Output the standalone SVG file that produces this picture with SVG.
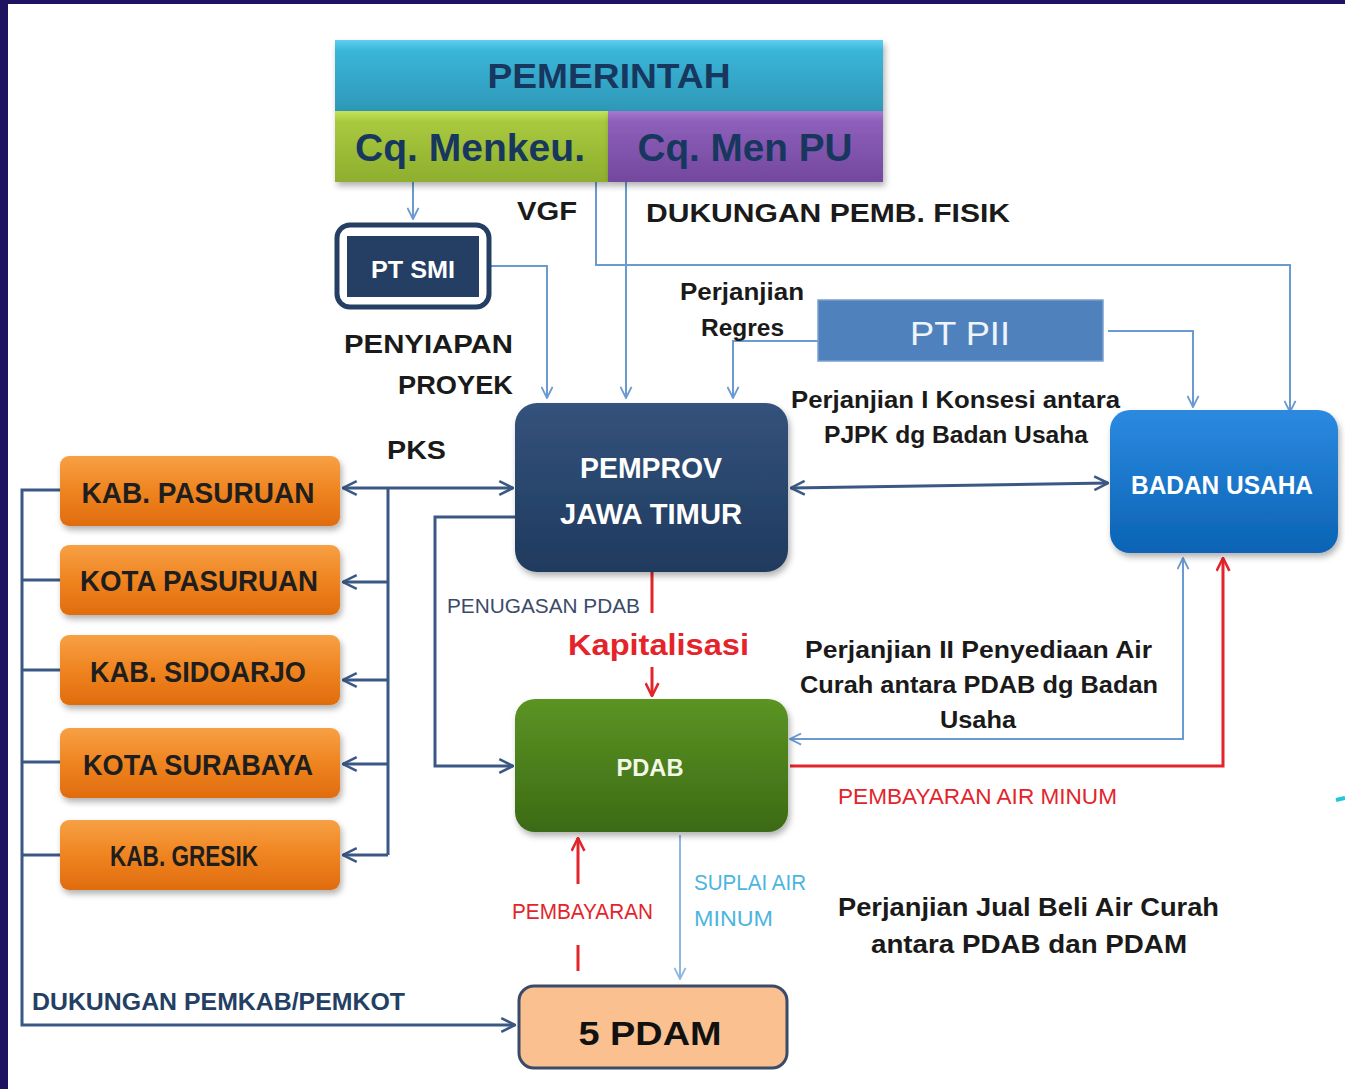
<svg xmlns="http://www.w3.org/2000/svg" width="1345" height="1089" viewBox="0 0 1345 1089">
<defs>
<style>
.t{font-family:"Liberation Sans",Arial,sans-serif;font-weight:bold;}
.lbl{fill:#1a1a1a;font-size:26px;}
.pj{fill:#1a1a1a;font-size:23px;}
.org{fill:#1e1e1e;font-size:29px;}
.w{fill:#ffffff;}
.dk{fill:none;stroke:#3b5884;stroke-width:3;}
.lb{fill:none;stroke:#6b9ad0;stroke-width:2;}
.rd{fill:none;stroke:#e3242b;stroke-width:3;}
.sp{fill:none;stroke:#8fb7e2;stroke-width:2;}
</style>
<marker id="aD" viewBox="0 0 14 14" refX="13" refY="7" markerWidth="16" markerHeight="16" markerUnits="userSpaceOnUse" orient="auto-start-reverse"><path d="M1,1 L13,7 L1,13" fill="none" stroke="#3b5884" stroke-width="2.2"/></marker>
<marker id="aL" viewBox="0 0 14 14" refX="13" refY="7" markerWidth="13" markerHeight="13" markerUnits="userSpaceOnUse" orient="auto"><path d="M1,1 L13,7 L1,13" fill="none" stroke="#6b9ad0" stroke-width="2"/></marker>
<marker id="aS" viewBox="0 0 14 14" refX="13" refY="7" markerWidth="13" markerHeight="13" markerUnits="userSpaceOnUse" orient="auto"><path d="M1,1 L13,7 L1,13" fill="none" stroke="#8fb7e2" stroke-width="2"/></marker>
<marker id="aR" viewBox="0 0 14 14" refX="13" refY="7" markerWidth="15" markerHeight="15" markerUnits="userSpaceOnUse" orient="auto"><path d="M1,1 L13,7 L1,13" fill="none" stroke="#e3242b" stroke-width="2.4"/></marker>
<linearGradient id="gTeal" x1="0" y1="0" x2="0" y2="1"><stop offset="0" stop-color="#5fd0ee"/><stop offset="0.15" stop-color="#3ab5d8"/><stop offset="1" stop-color="#2e98b8"/></linearGradient>
<linearGradient id="gLime" x1="0" y1="0" x2="0" y2="1"><stop offset="0" stop-color="#c4e35a"/><stop offset="0.15" stop-color="#a8c93e"/><stop offset="1" stop-color="#8eae2e"/></linearGradient>
<linearGradient id="gPur" x1="0" y1="0" x2="0" y2="1"><stop offset="0" stop-color="#a57ad0"/><stop offset="0.15" stop-color="#8d5fba"/><stop offset="1" stop-color="#74489e"/></linearGradient>
<linearGradient id="gNavy" x1="0" y1="0" x2="0" y2="1"><stop offset="0" stop-color="#34527c"/><stop offset="1" stop-color="#1f3a5e"/></linearGradient>
<linearGradient id="gBlue" x1="0" y1="0" x2="0" y2="1"><stop offset="0" stop-color="#2b8ae0"/><stop offset="1" stop-color="#0b63b4"/></linearGradient>
<linearGradient id="gGreen" x1="0" y1="0" x2="0" y2="1"><stop offset="0" stop-color="#5b9424"/><stop offset="1" stop-color="#3c6a14"/></linearGradient>
<linearGradient id="gOr" x1="0" y1="0" x2="0" y2="1"><stop offset="0" stop-color="#f7a045"/><stop offset="0.5" stop-color="#ef8420"/><stop offset="1" stop-color="#e06c0e"/></linearGradient>
<filter id="sh" x="-10%" y="-10%" width="125%" height="130%"><feDropShadow dx="2" dy="4" stdDeviation="3" flood-color="#000" flood-opacity="0.3"/></filter>
</defs>
<rect x="0" y="0" width="1345" height="1089" fill="#ffffff"/>
<rect x="0" y="0" width="1345" height="4" fill="#1f1260"/>
<rect x="0" y="0" width="8" height="1089" fill="#1f1260"/>
<path d="M1336,800 L1345,798" stroke="#26c6da" stroke-width="4" fill="none"/>

<g id="connectors">
  <!-- Menkeu to PT SMI -->
  <path class="lb" d="M413,182 V219" marker-end="url(#aL)"/>
  <!-- VGF to Badan Usaha -->
  <path class="lb" d="M596,182 V265 H1290 V412" marker-end="url(#aL)"/>
  <!-- Men PU to Pemprov -->
  <path class="lb" d="M626,182 V398" marker-end="url(#aL)"/>
  <!-- PT SMI to Pemprov -->
  <path class="lb" d="M490,266 H547 V398" marker-end="url(#aL)"/>
  <!-- PT PII to Pemprov (regres) -->
  <path class="lb" d="M818,341 H733 V398" marker-end="url(#aL)"/>
  <!-- PT PII to Badan Usaha -->
  <path class="lb" d="M1108,331 H1193 V407" marker-end="url(#aL)"/>
  <!-- Pemprov <-> Badan Usaha -->
  <path class="dk" d="M791,488 L1108,483" marker-start="url(#aD)" marker-end="url(#aD)"/>
  <!-- PKS bus -->
  <path class="dk" d="M388,488 H513" marker-end="url(#aD)"/>
  <path class="dk" d="M388,488 H343" marker-end="url(#aD)"/>
  <path class="dk" d="M388,488 V855"/>
  <path class="dk" d="M388,582 H343" marker-end="url(#aD)"/>
  <path class="dk" d="M388,680 H343" marker-end="url(#aD)"/>
  <path class="dk" d="M388,764 H343" marker-end="url(#aD)"/>
  <path class="dk" d="M388,855 H343" marker-end="url(#aD)"/>
  <!-- Left bus to 5 PDAM -->
  <path class="dk" d="M60,490 H22 V1025 H515" marker-end="url(#aD)"/>
  <path class="dk" d="M22,580 H60 M22,670 H60 M22,762 H60 M22,855 H60"/>
  <!-- Pemprov to PDAB (penugasan) -->
  <path class="dk" d="M515,517 H435 V766 H513" marker-end="url(#aD)"/>
  <!-- Kapitalisasi -->
  <path class="rd" d="M652,572 V613"/>
  <path class="rd" d="M652,667 V696" marker-end="url(#aR)"/>
  <!-- Badan Usaha to PDAB -->
  <path class="lb" d="M1183,558 V739 H790" stroke-width="2.5"/>
  <path class="lb" d="M1183,600 V558" marker-end="url(#aL)"/>
  <path class="lb" d="M820,739 H790" marker-end="url(#aL)"/>
  <!-- PDAB payment to Badan Usaha -->
  <path class="rd" d="M790,766 H1223 V558" marker-end="url(#aR)"/>
  <!-- Suplai air minum -->
  <path class="sp" d="M680,835 V979" marker-end="url(#aS)"/>
  <!-- Pembayaran -->
  <path class="rd" d="M578,884 V838" marker-end="url(#aR)"/>
  <path class="rd" d="M578,945 V971"/>
</g>

<g id="pemerintah">
  <rect x="335" y="40" width="548" height="71" fill="url(#gTeal)" filter="url(#sh)"/>
  <text class="t" x="609" y="88" font-size="35" fill="#17375e" text-anchor="middle" textLength="243" lengthAdjust="spacingAndGlyphs">PEMERINTAH</text>
</g>
<g id="menkeu">
  <rect x="335" y="111" width="273" height="71" fill="url(#gLime)" filter="url(#sh)"/>
  <text class="t" x="470" y="161" font-size="38" fill="#17375e" text-anchor="middle" textLength="230" lengthAdjust="spacingAndGlyphs">Cq. Menkeu.</text>
</g>
<g id="menpu">
  <rect x="608" y="111" width="275" height="71" fill="url(#gPur)" filter="url(#sh)"/>
  <text class="t" x="745" y="161" font-size="38" fill="#17375e" text-anchor="middle" textLength="215" lengthAdjust="spacingAndGlyphs">Cq. Men PU</text>
</g>

<g id="ptsmi">
  <rect x="337" y="225" width="152" height="82" rx="13" fill="#ffffff" stroke="#243f63" stroke-width="5"/>
  <rect x="347" y="236" width="132" height="61" fill="#243f63"/>
  <text class="t w" x="413" y="278" font-size="24" text-anchor="middle" textLength="84" lengthAdjust="spacingAndGlyphs">PT SMI</text>
</g>

<g id="ptpii">
  <rect x="818" y="300" width="285" height="61" fill="#4f81bd" stroke="#7aa0d0" stroke-width="1.5"/>
  <text x="960" y="345" font-family="Liberation Sans,Arial,sans-serif" font-size="34" fill="#eef4fb" text-anchor="middle" textLength="100" lengthAdjust="spacingAndGlyphs">PT PII</text>
</g>

<g id="pemprov">
  <rect x="515" y="403" width="273" height="169" rx="22" fill="url(#gNavy)" filter="url(#sh)"/>
  <text class="t w" x="651" y="478" font-size="29" text-anchor="middle" textLength="142" lengthAdjust="spacingAndGlyphs">PEMPROV</text>
  <text class="t w" x="651" y="524" font-size="29" text-anchor="middle" textLength="182" lengthAdjust="spacingAndGlyphs">JAWA TIMUR</text>
</g>

<g id="badanusaha">
  <rect x="1110" y="410" width="228" height="143" rx="20" fill="url(#gBlue)" filter="url(#sh)"/>
  <text class="t w" x="1222" y="494" font-size="25" text-anchor="middle" textLength="182" lengthAdjust="spacingAndGlyphs">BADAN USAHA</text>
</g>

<g id="kab-pasuruan">
  <rect x="60" y="456" width="280" height="70" rx="9" fill="url(#gOr)" filter="url(#sh)"/>
  <text class="t org" x="198" y="503" text-anchor="middle" textLength="233" lengthAdjust="spacingAndGlyphs">KAB. PASURUAN</text>
</g>
<g id="kota-pasuruan">
  <rect x="60" y="545" width="280" height="70" rx="9" fill="url(#gOr)" filter="url(#sh)"/>
  <text class="t org" x="199" y="591" text-anchor="middle" textLength="238" lengthAdjust="spacingAndGlyphs">KOTA PASURUAN</text>
</g>
<g id="kab-sidoarjo">
  <rect x="60" y="635" width="280" height="70" rx="9" fill="url(#gOr)" filter="url(#sh)"/>
  <text class="t org" x="198" y="682" text-anchor="middle" textLength="216" lengthAdjust="spacingAndGlyphs">KAB. SIDOARJO</text>
</g>
<g id="kota-surabaya">
  <rect x="60" y="728" width="280" height="70" rx="9" fill="url(#gOr)" filter="url(#sh)"/>
  <text class="t org" x="198" y="775" text-anchor="middle" textLength="230" lengthAdjust="spacingAndGlyphs">KOTA SURABAYA</text>
</g>
<g id="kab-gresik">
  <rect x="60" y="820" width="280" height="70" rx="9" fill="url(#gOr)" filter="url(#sh)"/>
  <text class="t org" x="184" y="866" text-anchor="middle" textLength="148" lengthAdjust="spacingAndGlyphs">KAB. GRESIK</text>
</g>

<g id="pdab">
  <rect x="515" y="699" width="273" height="133" rx="20" fill="url(#gGreen)" filter="url(#sh)"/>
  <text class="t" x="650" y="776" font-size="24" fill="#f2f7e8" text-anchor="middle" textLength="67" lengthAdjust="spacingAndGlyphs">PDAB</text>
</g>

<g id="pdam">
  <rect x="519" y="986" width="268" height="82" rx="15" fill="#fac090" stroke="#3b4a68" stroke-width="3"/>
  <text class="t" x="650" y="1045" font-size="34" fill="#111" text-anchor="middle" textLength="143" lengthAdjust="spacingAndGlyphs">5 PDAM</text>
</g>

<g id="labels">
  <text class="t lbl" x="517" y="220" textLength="60" lengthAdjust="spacingAndGlyphs">VGF</text>
  <text class="t lbl" x="646" y="222" textLength="364" lengthAdjust="spacingAndGlyphs">DUKUNGAN PEMB. FISIK</text>
  <text class="t pj" x="680" y="300" textLength="124" lengthAdjust="spacingAndGlyphs">Perjanjian</text>
  <text class="t pj" x="701" y="336" textLength="83" lengthAdjust="spacingAndGlyphs">Regres</text>
  <text class="t lbl" x="344" y="353" textLength="169" lengthAdjust="spacingAndGlyphs">PENYIAPAN</text>
  <text class="t lbl" x="398" y="394" textLength="115" lengthAdjust="spacingAndGlyphs">PROYEK</text>
  <text class="t lbl" x="387" y="459" textLength="59" lengthAdjust="spacingAndGlyphs">PKS</text>
  <text class="t pj" x="791" y="408" textLength="329" lengthAdjust="spacingAndGlyphs">Perjanjian I Konsesi antara</text>
  <text class="t pj" x="824" y="443" textLength="264" lengthAdjust="spacingAndGlyphs">PJPK dg Badan Usaha</text>
  <text x="447" y="613" font-family="Liberation Sans,Arial,sans-serif" font-size="21" fill="#3b4a68" textLength="193" lengthAdjust="spacingAndGlyphs">PENUGASAN PDAB</text>
  <text class="t" x="568" y="655" font-size="30" fill="#e3242b" textLength="181" lengthAdjust="spacingAndGlyphs">Kapitalisasi</text>
  <text class="t pj" x="805" y="658" textLength="347" lengthAdjust="spacingAndGlyphs">Perjanjian II Penyediaan Air</text>
  <text class="t pj" x="800" y="693" textLength="358" lengthAdjust="spacingAndGlyphs">Curah antara PDAB dg Badan</text>
  <text class="t pj" x="940" y="728" textLength="76" lengthAdjust="spacingAndGlyphs">Usaha</text>
  <text x="838" y="804" font-family="Liberation Sans,Arial,sans-serif" font-size="22" fill="#e3242b" textLength="279" lengthAdjust="spacingAndGlyphs">PEMBAYARAN AIR MINUM</text>
  <text x="694" y="890" font-family="Liberation Sans,Arial,sans-serif" font-size="22" fill="#4bb5e0" textLength="112" lengthAdjust="spacingAndGlyphs">SUPLAI AIR</text>
  <text x="694" y="926" font-family="Liberation Sans,Arial,sans-serif" font-size="22" fill="#4bb5e0" textLength="79" lengthAdjust="spacingAndGlyphs">MINUM</text>
  <text x="512" y="919" font-family="Liberation Sans,Arial,sans-serif" font-size="22" fill="#e3242b" textLength="141" lengthAdjust="spacingAndGlyphs">PEMBAYARAN</text>
  <text class="t" x="838" y="916" font-size="25" fill="#1a1a1a" textLength="381" lengthAdjust="spacingAndGlyphs">Perjanjian Jual Beli Air Curah</text>
  <text class="t" x="871" y="953" font-size="25" fill="#1a1a1a" textLength="316" lengthAdjust="spacingAndGlyphs">antara PDAB dan PDAM</text>
  <text class="t" x="32" y="1010" font-size="24" fill="#243f63" textLength="373" lengthAdjust="spacingAndGlyphs">DUKUNGAN PEMKAB/PEMKOT</text>
</g>
</svg>
